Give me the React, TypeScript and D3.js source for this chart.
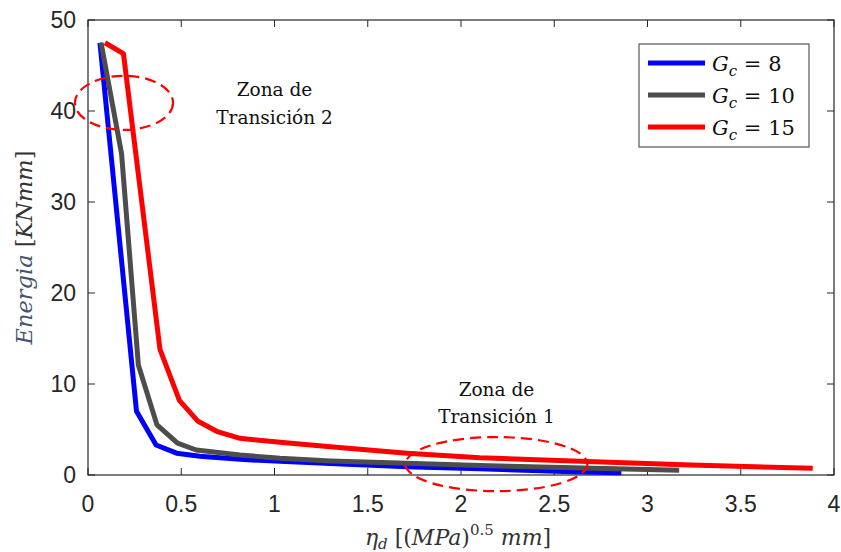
import React from 'react';
import * as d3 from 'd3';

// Energia vs eta_d, tres valores de Gc
const gc8: [number, number][] = [
  [0.064, 47.5], [0.26, 7.0], [0.365, 3.3], [0.475, 2.4], [0.6, 2.05],
  [0.815, 1.72], [1.03, 1.5], [1.3, 1.25], [1.71, 0.92], [2.1, 0.68],
  [2.6, 0.37], [2.86, 0.26]
];
const gc10: [number, number][] = [
  [0.07, 47.5], [0.18, 35.3], [0.27, 12.1], [0.37, 5.5], [0.48, 3.5],
  [0.58, 2.75], [0.815, 2.2], [1.03, 1.83], [1.3, 1.55], [1.71, 1.3],
  [2.1, 1.05], [2.6, 0.8], [3.17, 0.51]
];
const gc15: [number, number][] = [
  [0.091, 47.5], [0.19, 46.3], [0.386, 13.8], [0.49, 8.2], [0.59, 5.9],
  [0.69, 4.8], [0.815, 4.03], [1.03, 3.6], [1.3, 3.1], [1.71, 2.4],
  [2.1, 1.9], [2.6, 1.55], [3.23, 1.1], [3.886, 0.73]
];
const seriesNames = ['8', '10', '15'];
const seriesColors = ['#0000ff', '#4d4d4d', '#ff0000'];
const xTicks = [0, 0.5, 1, 1.5, 2, 2.5, 3, 3.5, 4];
const yTicks = [0, 10, 20, 30, 40, 50];

const W = 841, H = 552;
const margin = { left: 88, top: 20, right: 7, bottom: 77 };
const sans = "'Liberation Sans', Arial, sans-serif";
const serif = "'DejaVu Serif', serif";
const axisColor = '#262626';

export default function App() {
  const x = d3.scaleLinear().domain([0, 4]).range([margin.left, W - margin.right]);
  const y = d3.scaleLinear().domain([0, 50]).range([H - margin.bottom, margin.top]);
  const line = d3.line<[number, number]>().x(d => x(d[0])).y(d => y(d[1]));
  const all = [gc8, gc10, gc15];
  const x0 = x(0), x1 = x(4), y0 = y(0), y1 = y(50);
  const tl = 7;

  // anotaciones (zonas de transición)
  const zones = [
    { cx: 0.193, cy: 40.9, rx: 0.263, ry: 2.97, tx: 1.0, ty1: 41.6, ty2: 38.6, label: 'Transición 2' },
    { cx: 2.19, cy: 1.2, rx: 0.488, ry: 2.97, tx: 2.19, ty1: 8.7, ty2: 5.7, label: 'Transición 1' }
  ];

  const legX = 639, legY = 44, legW = 170, legH = 103;

  return (
    <div style={{ position: 'absolute', left: 0, top: 0 }}>
      <svg width={W} height={H} style={{ display: 'block', background: '#fff' }}>
        {/* ejes */}
        <rect x={x0} y={y1} width={x1 - x0} height={y0 - y1} fill="none" stroke={axisColor} strokeWidth={1.2} />
        {xTicks.map(t => (
          <g key={'x' + t}>
            <line x1={x(t)} x2={x(t)} y1={y0} y2={y0 - tl} stroke={axisColor} />
            <line x1={x(t)} x2={x(t)} y1={y1} y2={y1 + tl} stroke={axisColor} />
            <text x={x(t)} y={512} textAnchor="middle" fontFamily={sans} fontSize={23} fill={axisColor}>{t}</text>
          </g>
        ))}
        {yTicks.map(t => (
          <g key={'y' + t}>
            <line x1={x0} x2={x0 + tl} y1={y(t)} y2={y(t)} stroke={axisColor} />
            <line x1={x1} x2={x1 - tl} y1={y(t)} y2={y(t)} stroke={axisColor} />
            <text x={76} y={y(t) + 8} textAnchor="end" fontFamily={sans} fontSize={23} fill={axisColor}>{t}</text>
          </g>
        ))}

        {/* curvas */}
        {all.map((s, i) => (
          <path key={i} d={line(s) || ''} fill="none" stroke={seriesColors[i]} strokeWidth={5} strokeLinejoin="round" />
        ))}

        {/* zonas */}
        {zones.map((z, i) => (
          <g key={'z' + i}>
            <ellipse cx={x(z.cx)} cy={y(z.cy)} rx={x(z.rx) - x(0)} ry={y(0) - y(z.ry)}
              fill="none" stroke="#ff0000" strokeWidth={2.2} strokeDasharray="11 6" />
            <text x={x(z.tx)} y={y(z.ty1)} textAnchor="middle" fontFamily={serif} fontSize={18.5} fill="#111">Zona de</text>
            <text x={x(z.tx)} y={y(z.ty2)} textAnchor="middle" fontFamily={serif} fontSize={18.5} fill="#111">{z.label}</text>
          </g>
        ))}

        {/* leyenda */}
        <rect x={legX} y={legY} width={legW} height={legH} fill="#fff" stroke="#555" strokeWidth={1.2} />
        {seriesNames.map((n, i) => {
          const ry = legY + 19 + i * 32;
          return (
            <g key={'l' + i}>
              <line x1={legX + 9} x2={legX + 66} y1={ry} y2={ry} stroke={seriesColors[i]} strokeWidth={5} />
              <text x={legX + 73} y={ry + 8} fontFamily={serif} fontSize={21} fill="#111">
                <tspan fontStyle="italic">G</tspan>
                <tspan fontStyle="italic" fontSize={15} dy={5}>c</tspan>
                <tspan dy={-5}>{' = ' + n}</tspan>
              </text>
            </g>
          );
        })}

        {/* etiquetas de ejes */}
        <text x={458} y={545} textAnchor="middle" fontFamily={serif} fontSize={22} fill="#333">
          <tspan fontStyle="italic">η</tspan>
          <tspan fontStyle="italic" fontSize={15} dy={4}>d</tspan>
          <tspan dy={-4}>{'  [('}</tspan>
          <tspan fontStyle="italic">MPa</tspan>
          <tspan>)</tspan>
          <tspan fontSize={15} dy={-10}>0.5</tspan>
          <tspan dy={10} fontStyle="italic">{'  mm'}</tspan>
          <tspan>]</tspan>
        </text>
        <text transform={`translate(32,${(y0 + y1) / 2}) rotate(-90)`} textAnchor="middle" fontFamily={serif} fontSize={22.5} fill="#333">
          <tspan fontStyle="italic" fill="#44546a">Energia</tspan>
          <tspan>{'  ['}</tspan>
          <tspan fontStyle="italic">KNmm</tspan>
          <tspan>]</tspan>
        </text>
      </svg>
    </div>
  );
}
